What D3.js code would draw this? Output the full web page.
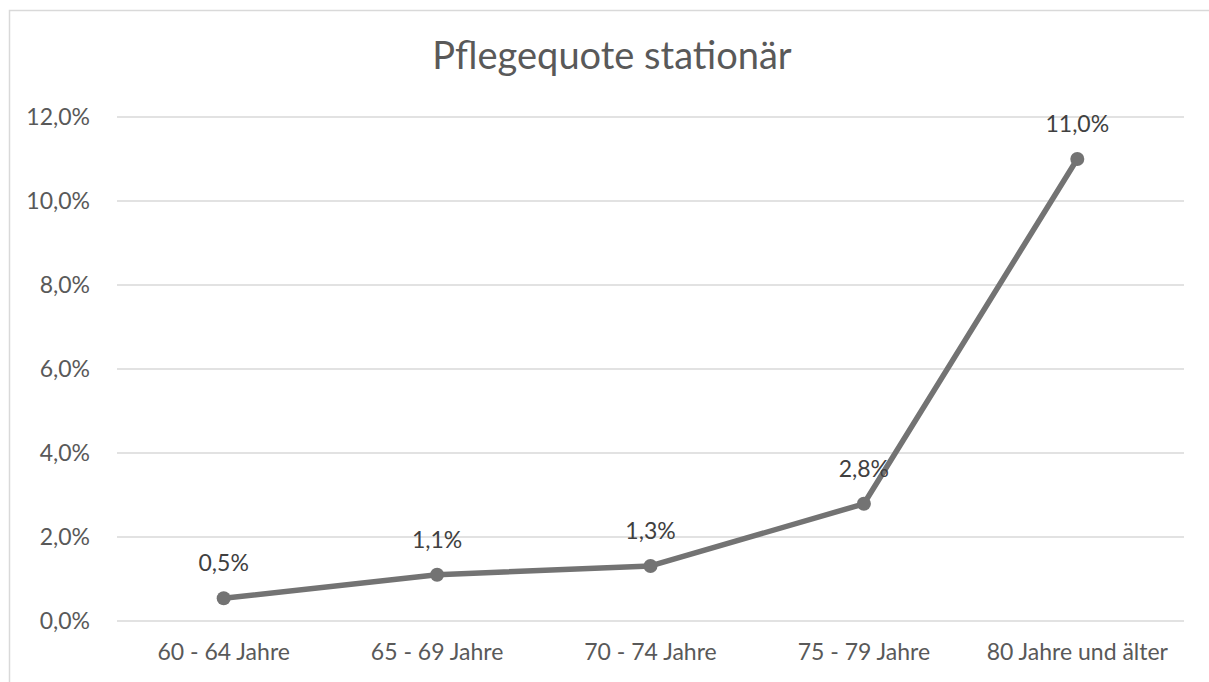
<!DOCTYPE html>
<html><head><meta charset="utf-8">
<script src="https://cdn.jsdelivr.net/npm/d3@7"></script>
<style>body{margin:0;background:#fff;} svg{display:block;}</style>
</head><body>
<svg id="c" width="1209" height="682"></svg>
<script>
const categories = ["60 - 64 Jahre","65 - 69 Jahre","70 - 74 Jahre","75 - 79 Jahre","80 Jahre und älter"];
const values = [0.54, 1.1, 1.31, 2.79, 11.0];
const valueLabels = ["0,5%","1,1%","1,3%","2,8%","11,0%"];
const yTicks = [0,2,4,6,8,10,12];
const title = "Pflegequote stationär";

(function(){
const svg = d3.select("#c");
const font = "Lato, 'Noto Sans', sans-serif";
const textCol = "#595959";

svg.append("rect").attr("x",9.5).attr("y",10.5).attr("width",1300).attr("height",800)
  .attr("fill","#fff").attr("stroke","#d9d9d9").attr("stroke-width",1.5);

const pl=117, pr=1184, pt=117, pb=621;
const x = d3.scaleBand().domain(categories).range([pl,pr]);
const y = d3.scaleLinear().domain([0,12]).range([pb,pt]);

svg.append("text").attr("x",612).attr("y",69).attr("text-anchor","middle")
  .attr("font-family",font).attr("font-size",38).attr("fill",textCol).text(title);

const grid = svg.append("g");
grid.selectAll("line").data(yTicks).join("line")
  .attr("x1",pl).attr("x2",pr).attr("y1",d=>y(d)).attr("y2",d=>y(d))
  .attr("stroke","#d9d9d9").attr("stroke-width",1.5);

const yAxis = d3.axisLeft(y).tickValues(yTicks).tickSize(0).tickPadding(27)
  .tickFormat(d=>d.toFixed(1).replace(".",",")+"%");
const gy = svg.append("g").attr("transform",`translate(${pl},0)`).call(yAxis);
gy.select(".domain").remove();
gy.selectAll("text").attr("font-family",font).attr("font-size",23).attr("fill",textCol);

const xAxis = d3.axisBottom(x).tickSize(0).tickPadding(23);
const gx = svg.append("g").attr("transform",`translate(0,${pb})`).call(xAxis);
gx.select(".domain").remove();
gx.selectAll("text").attr("font-family",font).attr("font-size",23).attr("fill",textCol);

const cx = d=>x(d)+x.bandwidth()/2;
const line = d3.line().x((d,i)=>cx(categories[i])).y(d=>y(d));
svg.append("path").datum(values).attr("d",line).attr("fill","none")
  .attr("stroke","#737373").attr("stroke-width",5.5).attr("stroke-linejoin","round");
svg.selectAll("circle.pt").data(values).join("circle").attr("class","pt")
  .attr("cx",(d,i)=>cx(categories[i])).attr("cy",d=>y(d)).attr("r",7).attr("fill","#737373");
svg.selectAll("text.lbl").data(values).join("text").attr("class","lbl")
  .attr("x",(d,i)=>cx(categories[i])).attr("y",d=>y(d)-27).attr("text-anchor","middle")
  .attr("font-family",font).attr("font-size",23).attr("fill","#404040")
  .text((d,i)=>valueLabels[i]);
})();
</script>
</body></html>
